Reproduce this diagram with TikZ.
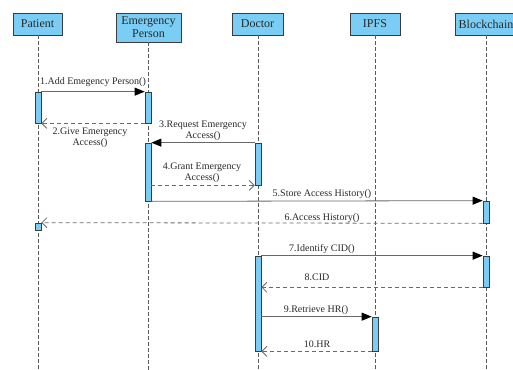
\documentclass[tikz,border=0pt]{standalone}
\usepackage{fontspec}
\setmainfont{Liberation Serif}
\usetikzlibrary{arrows.meta}
\definecolor{boxblue}{RGB}{122,206,245}
\definecolor{edge}{RGB}{60,60,60}
\definecolor{txt}{RGB}{40,40,40}
\definecolor{lifegray}{RGB}{90,90,90}
\definecolor{linegray}{RGB}{105,105,105}
\tikzset{
  header/.style={draw=edge, line width=0.8pt, fill=boxblue, inner sep=0pt,
    text=txt, font=\rmfamily\fontsize{12}{13}\selectfont, align=center},
  act/.style={draw=edge, line width=0.7pt, fill=boxblue, minimum width=6pt, inner sep=0pt},
  lifeline/.style={draw=lifegray, line width=0.8pt, dash pattern=on 4pt off 2pt},
  call/.style={draw=linegray, line width=0.8pt,
    -{Triangle[length=10pt,width=8pt,fill=black,color=black]}},
  reply/.style={draw=linegray, line width=0.8pt, dash pattern=on 4pt off 3pt,
    -{Straight Barb[length=5pt,width=10pt,line width=0.8pt]}},
  msg/.style={text=txt, font=\rmfamily\fontsize{10}{11}\selectfont, align=center, inner sep=0pt}
}
\begin{document}
\begin{tikzpicture}[x=1pt,y=-1pt]
\useasboundingbox (0,0) rectangle (513,369);
\clip (0,0) rectangle (513,369);

% participants
\node[header, minimum width=49pt, minimum height=22pt] (patient) at (37.5,24) {Patient};
\node[header, minimum width=65pt, minimum height=29pt] (emerg) at (148.5,27.5) {Emergency\\Person};
\node[header, minimum width=51pt, minimum height=22pt] (doctor) at (257.5,24) {Doctor};
\node[header, minimum width=50pt, minimum height=22pt] (ipfs) at (375,24) {IPFS};
\node[header, minimum width=62pt, minimum height=22pt] (chain) at (486,24) {Blockchain};

% lifeline ends
\coordinate (patientEnd) at (38,370);
\coordinate (emergEnd) at (148,370);
\coordinate (doctorEnd) at (258,370);
\coordinate (ipfsEnd) at (375,370);
\coordinate (chainEnd) at (486,370);

\draw[lifeline] (patient.south -| patientEnd) -- (patientEnd);
\draw[lifeline] (emerg.south -| emergEnd) -- (emergEnd);
\draw[lifeline] (doctor.south -| doctorEnd) -- (doctorEnd);
\draw[lifeline] (ipfs.south -| ipfsEnd) -- (ipfsEnd);
\draw[lifeline] (chain.south -| chainEnd) -- (chainEnd);

% activation bars
\node[act, minimum height=31pt] (pa1) at (38,107.5) {};
\node[act, minimum height=31pt] (ea1) at (148,107.5) {};
\node[act, minimum height=58pt] (ea2) at (148,172) {};
\node[act, minimum height=42pt] (da1) at (258,164) {};
\node[act, minimum height=22pt] (ba1) at (486,212) {};
\node[act, minimum height=7pt] (pa2) at (38,226.5) {};
\node[act, minimum height=95pt] (da2) at (258,303.5) {};
\node[act, minimum height=31pt] (ba2) at (486,271.5) {};
\node[act, minimum height=34pt] (ia1) at (375,334) {};

% messages
\draw[call] (pa1.north east) -- (ea1.north west);
\node[msg] (m1) at (93,82) {1.Add Emegency Person()};

\draw[reply] (ea1.south west) -- (pa1.south east);
\node[msg] (m2) at (90,137.5) {2.Give Emergency\\Access()};

\draw[call] (da1.north west) -- (ea2.north east);
\node[msg] (m3) at (203,130.5) {3.Request Emergency\\Access()};

\draw[reply] (ea2.east |- da1.south) -- (da1.south west);
\node[msg] (m4) at (202,173) {4.Grant Emergency\\Access()};

\draw[call] (ea2.south east) -- (ba1.north west);
\node[msg] (m5) at (322,194) {5.Store Access History()};

\draw[reply] (ba1.south west) -- (pa2.north east);
\node[msg] (m6) at (322,218) {6.Access History()};

\draw[call] (da2.north east) -- (ba2.north west);
\node[msg] (m7) at (322,249) {7.Identify CID()};

\draw[reply] (ba2.south west) -- (da2.east |- ba2.south);
\node[msg] (m8) at (317,277) {8.CID};

\draw[call] (da2.east |- ia1.north) -- (ia1.north west);
\node[msg] (m9) at (316,310) {9.Retrieve HR()};

\draw[reply] (ia1.south west) -- (da2.south east);
\node[msg] (m10) at (317,344) {10.HR};
\end{tikzpicture}
\end{document}
